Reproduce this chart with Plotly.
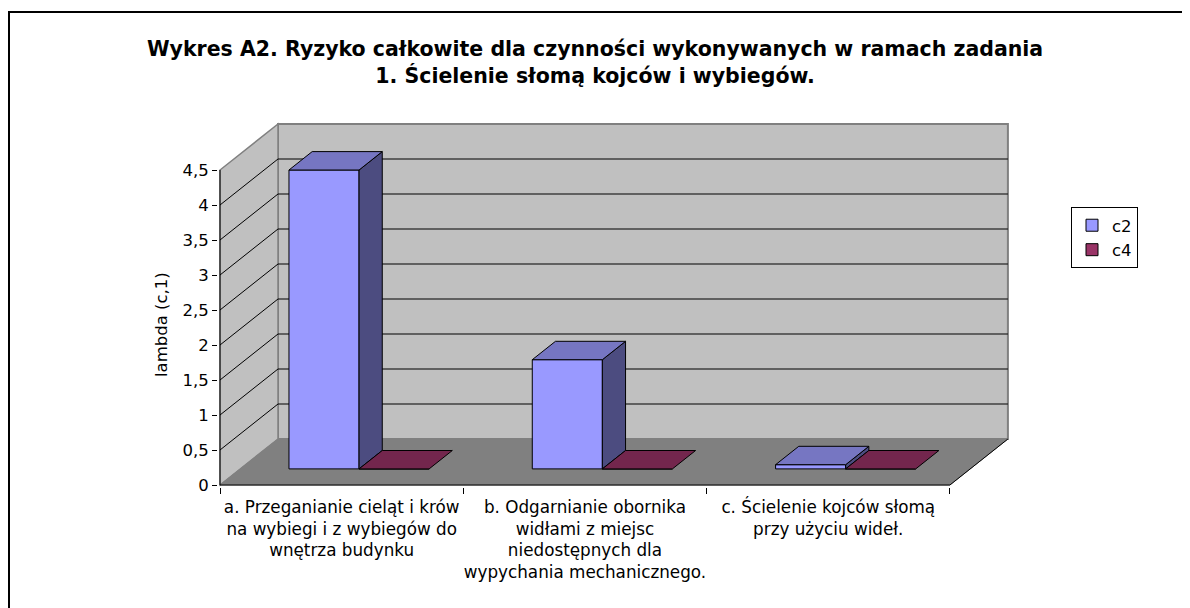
import plotly.graph_objects as go

# ---------------- data ----------------
categories = [
    "a. Przeganianie cieląt i krów<br>na wybiegi i z wybiegów do<br>wnętrza budynku",
    "b. Odgarnianie obornika<br>widłami z miejsc<br>niedostępnych dla<br>wypychania mechanicznego.",
    "c. Ścielenie kojców słomą<br>przy użyciu wideł.",
]
series_names = ["c2", "c4"]
c2 = [4.27, 1.56, 0.06]
c4 = [0.0, 0.0, 0.0]
y_ticks = [0, 0.5, 1, 1.5, 2, 2.5, 3, 3.5, 4, 4.5]
title_text = ("<b>Wykres A2. Ryzyko całkowite dla czynności wykonywanych w ramach zadania"
              "<br>1. Ścielenie słomą kojców i wybiegów.</b>")
y_title = "lambda (c,1)"

# ---------------- style / geometry (page pixel targets) ----------------
OFF = 8                                        # default page body margin
FW, FH = 1190 - OFF, 608 - OFF
PL, PR, PT, PB = 218, 1010, 122, 487           # plot area in page px
X0PX, Y0PX = 220, 485                          # front axis origin in page px
SX, SY = 243.3, 70.0                           # px per category / per unit
DX, DY = 58 / SX, 46 / SY                      # depth offset in data units
BAR_W = 0.288
PLANE_FX, PLANE_FY = 0.30, 0.35
BAR_D = 0.40
FONT = "DejaVu Sans"
FS = 16.5
FS_CAT = 16.8

cols = {"c2": ("#9999FF", "#7676C2", "#4C4C80"),
        "c4": ("#993366", "#73264D", "#4C1933")}

n = len(categories)
x_lo, x_hi = -0.5, n - 0.5
y_top = max(y_ticks)

xr = [-0.5 - (X0PX - PL) / SX, -0.5 + (PR - X0PX) / SX]
yr = [-(PB - Y0PX) / SY, (Y0PX - PT) / SY]


def px_x(p):
    return (p - PL) / (PR - PL)


def px_y(p):
    return (PB - p) / (PB - PT)


shapes = []
# outer frame
shapes.append(dict(type="rect", xref="paper", yref="paper", x0=px_x(9), x1=px_x(1200),
                   y0=px_y(640), y1=px_y(12), line=dict(color="black", width=2),
                   fillcolor="rgba(0,0,0,0)", layer="below"))


def poly(pts):
    return "M " + " L ".join(f"{x},{y}" for x, y in pts) + " Z"


# back wall
shapes.append(dict(type="path", xref="x", yref="y", layer="below",
                   path=poly([(x_lo + DX, DY), (x_hi + DX, DY), (x_hi + DX, y_top + DY), (x_lo + DX, y_top + DY)]),
                   fillcolor="#C0C0C0", line=dict(color="#808080", width=2)))
# side wall
shapes.append(dict(type="path", xref="x", yref="y", layer="below",
                   path=poly([(x_lo, 0), (x_lo, y_top), (x_lo + DX, y_top + DY), (x_lo + DX, DY)]),
                   fillcolor="#C0C0C0", line=dict(color="#808080", width=1.5)))
# floor
shapes.append(dict(type="path", xref="x", yref="y", layer="below",
                   path=poly([(x_lo, 0), (x_hi, 0), (x_hi + DX, DY), (x_lo + DX, DY)]),
                   fillcolor="#808080", line=dict(color="#808080", width=1)))
# gridlines
for v in y_ticks[1:-1]:
    shapes.append(dict(type="line", xref="x", yref="y", layer="below",
                       x0=x_lo, y0=v, x1=x_lo + DX, y1=v + DY, line=dict(color="black", width=1)))
    shapes.append(dict(type="line", xref="x", yref="y", layer="below",
                       x0=x_lo + DX, y0=v + DY, x1=x_hi + DX, y1=v + DY, line=dict(color="black", width=1)))
# axis lines and floor right edge
shapes.append(dict(type="line", xref="x", yref="y", layer="below",
                   x0=x_lo, y0=0, x1=x_hi, y1=0, line=dict(color="black", width=1)))
shapes.append(dict(type="line", xref="x", yref="y", layer="below",
                   x0=x_lo, y0=0, x1=x_lo, y1=y_top, line=dict(color="black", width=1)))
shapes.append(dict(type="line", xref="x", yref="y", layer="below",
                   x0=x_hi, y0=0, x1=x_hi + DX, y1=DY, line=dict(color="black", width=1)))

fig = go.Figure()

base = PLANE_FY * DY
series = {"c2": c2, "c4": c4}
offsets = {"c2": -BAR_W / 2, "c4": BAR_W / 2}

for name in series_names:
    vals = series[name]
    front, top, side = cols[name]
    xc = [i + offsets[name] + PLANE_FX * DX for i in range(n)]
    fig.add_trace(go.Bar(x=xc, y=vals, base=base, width=BAR_W, name=name,
                         marker=dict(color=front, line=dict(color="black", width=1)),
                         hoverinfo="skip"))

for name in series_names:
    vals = series[name]
    front, top, side = cols[name]
    xc = [i + offsets[name] + PLANE_FX * DX for i in range(n)]
    tx, ty, sx, sy = [], [], [], []
    for c, v in zip(xc, vals):
        x0, x1 = c - BAR_W / 2, c + BAR_W / 2
        yb, yt = base, base + v
        ddx, ddy = BAR_D * DX, BAR_D * DY
        tx += [x0, x1, x1 + ddx, x0 + ddx, x0, None]
        ty += [yt, yt, yt + ddy, yt + ddy, yt, None]
        if v > 0:
            sx += [x1, x1, x1 + ddx, x1 + ddx, x1, None]
            sy += [yb, yt, yt + ddy, yb + ddy, yb, None]
    if sx:
        fig.add_trace(go.Scatter(x=sx, y=sy, mode="lines", fill="toself", fillcolor=side,
                                 line=dict(color="black", width=1), showlegend=False, hoverinfo="skip"))
    fig.add_trace(go.Scatter(x=tx, y=ty, mode="lines", fill="toself", fillcolor=top,
                             line=dict(color="black", width=1), showlegend=False, hoverinfo="skip"))

annotations = [
    dict(text=title_text, xref="paper", yref="paper", x=px_x(595), y=px_y(62),
         xanchor="center", yanchor="middle", showarrow=False,
         font=dict(family=FONT, size=20.5, color="black")),
    dict(text=y_title, xref="paper", yref="paper", x=px_x(161), y=px_y(325),
         xanchor="center", yanchor="middle", textangle=-90, showarrow=False,
         font=dict(family=FONT, size=FS, color="black")),
]

fig.update_layout(
    width=FW, height=FH,
    margin=dict(l=PL - OFF, r=OFF + FW - PR, t=PT - OFF, b=OFF + FH - PB, pad=0),
    paper_bgcolor="white", plot_bgcolor="rgba(0,0,0,0)",
    separators=", ",
    barmode="overlay",
    showlegend=True,
    legend=dict(x=px_x(1071), y=px_y(207), xanchor="left", yanchor="top",
                bordercolor="black", borderwidth=1, bgcolor="white",
                font=dict(family=FONT, size=FS, color="black"),
                itemwidth=30, tracegroupgap=4),
    xaxis=dict(range=xr, tickmode="array", tickvals=list(range(n)), ticktext=categories,
               ticks="", showgrid=False, zeroline=False, showline=False,
               ticklabelstandoff=8,
               tickfont=dict(family=FONT, size=FS_CAT, color="black"),
               minor=dict(tickmode="array", tickvals=[i - 0.5 for i in range(n + 1)],
                          ticks="outside", ticklen=6, tickcolor="black", tickwidth=1, showgrid=False),
               fixedrange=True),
    yaxis=dict(range=yr, tickmode="array", tickvals=y_ticks, ticks="outside", ticklen=5,
               tickcolor="black", showgrid=False, zeroline=False, showline=False,
               tickfont=dict(family=FONT, size=FS, color="black"), fixedrange=True),
    shapes=shapes,
    annotations=annotations,
)

fig.write_html("out.html")
